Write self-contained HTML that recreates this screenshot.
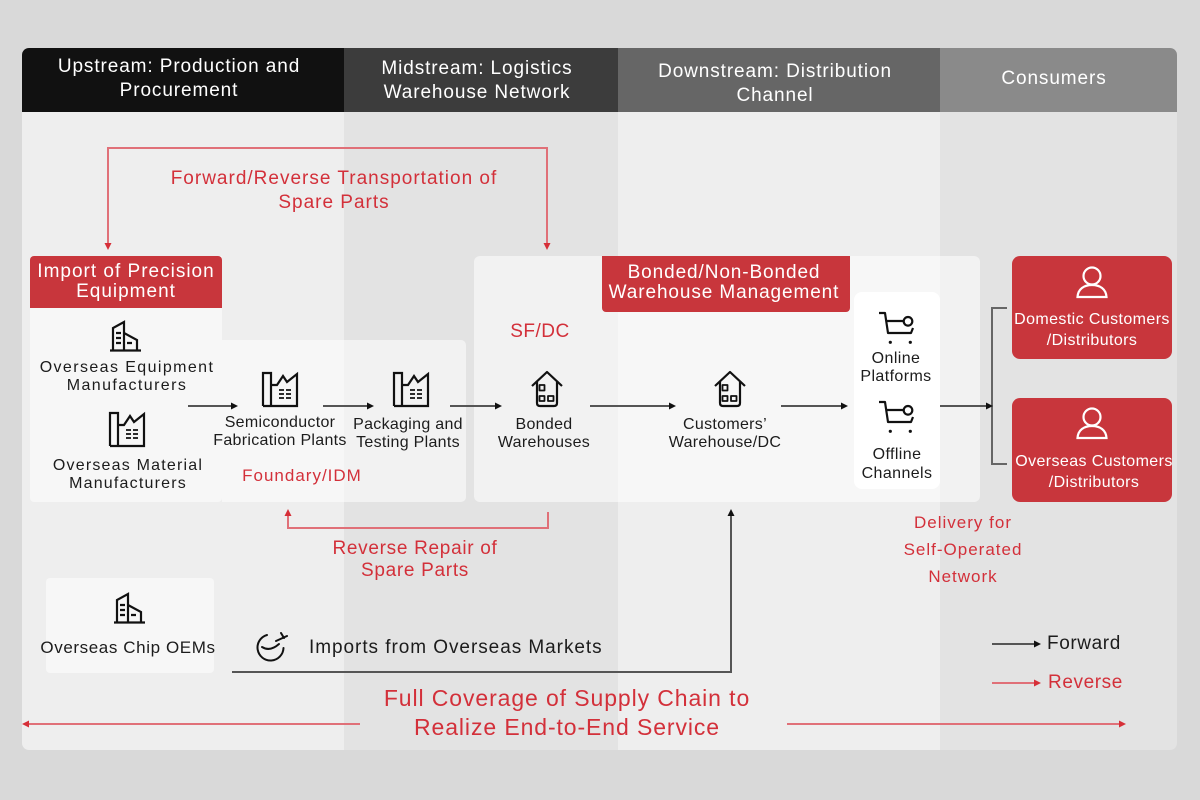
<!DOCTYPE html>
<html>
<head>
<meta charset="utf-8">
<style>
  html,body{margin:0;padding:0;}
  body{width:1200px;height:800px;background:#d9d9d9;position:relative;overflow:hidden;font-family:"Liberation Sans",Arial,sans-serif;}
  .card{position:absolute;left:22px;top:48px;width:1155px;height:702px;border-radius:7px;overflow:hidden;}
  .col{position:absolute;top:0;height:702px;}
  .hd{position:absolute;top:0;left:0;right:0;height:64px;}
  .p{position:absolute;}
  .t{position:absolute;white-space:nowrap;text-align:center;width:400px;}
  .tl{position:absolute;white-space:nowrap;}
  .w{color:#fff;}
  .r{color:#d3303a;}
  .k{color:#1c1c1c;}
</style>
</head>
<body>
<div class="card">
  <div class="col" style="left:0;width:322px;background:#eeeeee;"><div class="hd" style="background:#111111;"></div></div>
  <div class="col" style="left:322px;width:274px;background:#e3e3e3;"><div class="hd" style="background:#3c3c3c;"></div></div>
  <div class="col" style="left:596px;width:322px;background:#eeeeee;"><div class="hd" style="background:#666666;"></div></div>
  <div class="col" style="left:918px;width:237px;background:#e3e3e3;"><div class="hd" style="background:#8a8a8a;"></div></div>
</div>

<!-- panels -->
<div class="p" style="left:30px;top:256px;width:192px;height:246px;background:#f7f7f7;border-radius:4px 0 4px 4px;"></div>
<div class="p" style="left:30px;top:256px;width:192px;height:52px;background:#c8363c;border-radius:4px 4px 0 0;"></div>
<div class="p" style="left:222px;top:340px;width:244px;height:162px;background:rgba(255,255,255,0.55);border-radius:0 5px 5px 0;"></div>
<div class="p" style="left:474px;top:256px;width:506px;height:246px;background:rgba(255,255,255,0.55);border-radius:6px;"></div>
<div class="p" style="left:602px;top:256px;width:248px;height:56px;background:#c8363c;border-radius:0 0 4px 4px;"></div>
<div class="p" style="left:854px;top:292px;width:86px;height:197px;background:#ffffff;border-radius:8px;"></div>
<div class="p" style="left:46px;top:578px;width:168px;height:95px;background:#f7f7f7;border-radius:4px;"></div>
<div class="p" style="left:1012px;top:256px;width:160px;height:103px;background:#c8363c;border-radius:8px;"></div>
<div class="p" style="left:1012px;top:398px;width:160px;height:104px;background:#c8363c;border-radius:8px;"></div>

<svg width="1200" height="800" style="position:absolute;left:0;top:0;" xmlns="http://www.w3.org/2000/svg">
  <defs>
    <g id="bld" fill="none" stroke="#111" stroke-width="2.2" stroke-linejoin="miter">
      <path d="M3 28 V6 L14 0 V28"/>
      <path d="M14 11 L27 18 V28"/>
      <path d="M0 28.5 H31"/>
      <path d="M6 11 H11 M6 16 H11 M6 21 H11 M17 21 H22"/>
    </g>
    <g id="fac" fill="none" stroke="#111" stroke-width="2.2">
      <path d="M0 33 V0 H8 V33"/>
      <path d="M8 12 H14 L20 3 L24 9 L34 1 V33 H0"/>
      <path d="M16 17 H21 M23 17 H28 M16 21 H21 M23 21 H28 M16 25 H21 M23 25 H28" stroke-width="1.8"/>
    </g>
    <g id="wh" fill="none" stroke="#111" stroke-width="2.2" stroke-linejoin="round">
      <path d="M0 15 L15 1 L30 15"/>
      <path d="M5 11 V32 Q5 35 8 35 H22 Q25 35 25 32 V11"/>
      <rect x="7.5" y="14" width="5" height="5.5" stroke-width="1.8"/>
      <rect x="7.5" y="25" width="5" height="5" stroke-width="1.8"/>
      <rect x="16" y="25" width="5.5" height="5" stroke-width="1.8"/>
    </g>
    <g id="cart" fill="none" stroke="#111" stroke-width="2.2" stroke-linejoin="round">
      <path d="M2 1 H8 L11 21 H34 L36 16"/>
      <path d="M8.5 9 H26.5"/>
      <circle cx="31" cy="9.3" r="4.3"/>
      <circle cx="13.3" cy="30.3" r="1.6" fill="#111" stroke="none"/>
      <circle cx="33.3" cy="30.3" r="1.6" fill="#111" stroke="none"/>
    </g>
    <g id="per" fill="none" stroke="#fff" stroke-width="2.2">
      <circle cx="0" cy="0" r="8.5"/>
      <path d="M-14.5 21 C-14 13 -8 9 0 9 C8 9 14 13 14.5 21 Z"/>
    </g>
  </defs>

  <!-- icons -->
  <use href="#bld" x="110" y="322"/>
  <use href="#fac" x="110" y="413"/>
  <use href="#fac" x="263" y="373"/>
  <use href="#fac" x="394" y="373"/>
  <use href="#wh" x="532" y="371"/>
  <use href="#wh" x="715" y="371"/>
  <use href="#cart" x="877" y="312"/>
  <use href="#cart" x="877" y="401"/>
  <use href="#per" x="1092" y="276"/>
  <use href="#per" x="1092" y="417"/>
  <use href="#bld" x="114" y="594"/>

  <!-- plane icon -->
  <g fill="none" stroke="#111" stroke-width="2" stroke-linecap="round">
    <path d="M267 635 A13 13 0 1 0 283.5 648"/>
    <path d="M262 647 Q270 652 279 644"/>
    <path d="M276 641 L287 636"/>
    <path d="M281 633 L284 638"/>
  </g>

  <!-- dark forward arrows -->
  <g stroke="#555" stroke-width="2" fill="none">
    <path d="M188 406 H231"/>
    <path d="M323 406 H367"/>
    <path d="M450 406 H495"/>
    <path d="M590 406 H669"/>
    <path d="M781 406 H841"/>
    <path d="M940 406 H986"/>
    <path d="M992 644 H1034"/>
    <path d="M232 672 H731 V516"/>
    <path d="M1007 308 H992 V464 H1007" stroke="#666"/>
  </g>
  <g fill="#111">
    <polygon points="231,402.5 238,406 231,409.5"/>
    <polygon points="367,402.5 374,406 367,409.5"/>
    <polygon points="495,402.5 502,406 495,409.5"/>
    <polygon points="669,402.5 676,406 669,409.5"/>
    <polygon points="841,402.5 848,406 841,409.5"/>
    <polygon points="986,402.5 993,406 986,409.5"/>
    <polygon points="1034,640.5 1041,644 1034,647.5"/>
    <polygon points="727.5,516 731,509 734.5,516"/>
  </g>

  <!-- red reverse arrows -->
  <g stroke="#e07078" stroke-width="2" fill="none">
    <path d="M108 243 V148 H547 V243"/>
    <path d="M548 512 V528 H288 V516"/>
    <path d="M360 724 H29"/>
    <path d="M787 724 H1119"/>
    <path d="M992 683 H1034"/>
  </g>
  <g fill="#d62f38">
    <polygon points="104.5,243 108,250 111.5,243"/>
    <polygon points="543.5,243 547,250 550.5,243"/>
    <polygon points="284.5,516 288,509 291.5,516"/>
    <polygon points="29,720.5 22,724 29,727.5"/>
    <polygon points="1119,720.5 1126,724 1119,727.5"/>
    <polygon points="1034,679.5 1041,683 1034,686.5"/>
  </g>
</svg>

<!-- headers -->
<div class="t w" style="left:-21px;top:55px;font-size:19px;letter-spacing:0.9px;line-height:24px;">Upstream: Production and<br>Procurement</div>
<div class="t w" style="left:277px;top:57px;font-size:19px;letter-spacing:0.9px;line-height:24px;">Midstream: Logistics<br>Warehouse Network</div>
<div class="t w" style="left:575px;top:60px;font-size:19px;letter-spacing:0.9px;line-height:23.5px;">Downstream: Distribution<br>Channel</div>
<div class="t w" style="left:854px;top:67px;font-size:19px;letter-spacing:0.9px;line-height:24px;">Consumers</div>

<!-- red labels -->
<div class="t r" style="left:134px;top:167px;font-size:19px;letter-spacing:1px;line-height:24px;">Forward/Reverse Transportation of<br>Spare Parts</div>
<div class="t w" style="left:-74px;top:262px;font-size:19px;letter-spacing:1px;line-height:20px;">Import of Precision<br>Equipment</div>
<div class="t w" style="left:524px;top:263px;font-size:19px;letter-spacing:0.9px;line-height:20px;">Bonded/Non-Bonded<br>Warehouse Management</div>
<div class="t r" style="left:340px;top:320px;font-size:19px;letter-spacing:0.5px;line-height:24px;">SF/DC</div>

<!-- node labels -->
<div class="t k" style="left:-73px;top:359px;font-size:16px;letter-spacing:1.4px;line-height:18px;">Overseas Equipment<br>Manufacturers</div>
<div class="t k" style="left:-72px;top:457px;font-size:16px;letter-spacing:1.2px;line-height:17.5px;">Overseas Material<br>Manufacturers</div>
<div class="t k" style="left:80px;top:414px;font-size:16px;letter-spacing:0.3px;line-height:18px;">Semiconductor<br>Fabrication Plants</div>
<div class="t k" style="left:208px;top:416px;font-size:16px;letter-spacing:0.3px;line-height:18px;">Packaging and<br>Testing Plants</div>
<div class="t k" style="left:344px;top:416px;font-size:16px;letter-spacing:0.3px;line-height:18px;">Bonded<br>Warehouses</div>
<div class="t k" style="left:525px;top:416px;font-size:16px;letter-spacing:0.3px;line-height:18px;">Customers’<br>Warehouse/DC</div>
<div class="t k" style="left:696px;top:350px;font-size:16px;letter-spacing:0.4px;line-height:18px;">Online<br>Platforms</div>
<div class="t k" style="left:697px;top:444.5px;font-size:16px;letter-spacing:0.4px;line-height:19px;">Offline<br>Channels</div>
<div class="t r" style="left:102px;top:464px;font-size:17px;letter-spacing:1px;line-height:24px;">Foundary/IDM</div>

<div class="t w" style="left:892px;top:308.5px;font-size:16px;letter-spacing:0.4px;line-height:21px;">Domestic Customers<br>/Distributors</div>
<div class="t w" style="left:894px;top:450.5px;font-size:16px;letter-spacing:0.4px;line-height:21px;">Overseas Customers<br>/Distributors</div>

<div class="t r" style="left:215px;top:538px;font-size:19px;letter-spacing:0.7px;line-height:22px;">Reverse Repair of<br>Spare Parts</div>

<div class="t k" style="left:-72px;top:636px;font-size:17px;letter-spacing:0.6px;line-height:24px;">Overseas Chip OEMs</div>
<div class="tl k" style="left:309px;top:636px;font-size:19px;letter-spacing:0.95px;line-height:24px;">Imports from Overseas Markets</div>

<div class="t r" style="left:763px;top:508.5px;font-size:17px;letter-spacing:1px;line-height:27px;">Delivery for<br>Self-Operated<br>Network</div>

<div class="t r" style="left:367px;top:683.5px;font-size:23px;letter-spacing:0.9px;line-height:29px;">Full Coverage of Supply Chain to<br>Realize End-to-End Service</div>

<div class="tl k" style="left:1047px;top:632px;font-size:19px;letter-spacing:0.6px;line-height:24px;">Forward</div>
<div class="tl r" style="left:1048px;top:671px;font-size:19px;letter-spacing:0.6px;line-height:24px;">Reverse</div>
</body>
</html>
